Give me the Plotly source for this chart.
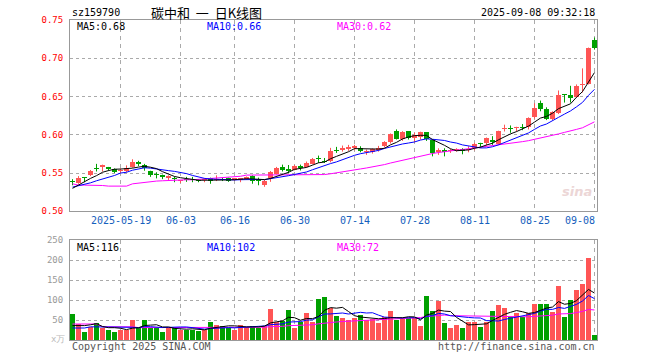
import plotly.graph_objects as go

# ---------------- data ----------------
opens = [0.540, 0.537, 0.544, 0.547, 0.556, 0.558, 0.558, 0.555, 0.553, 0.553,
         0.558, 0.564, 0.561, 0.553, 0.548, 0.547, 0.544, 0.544, 0.5395, 0.5425,
         0.5415, 0.5415, 0.541, 0.544, 0.541, 0.5425, 0.543, 0.5415, 0.5415, 0.542,
         0.5455, 0.5408, 0.535, 0.543, 0.549, 0.5583, 0.5553, 0.5543, 0.5596, 0.558,
         0.5622, 0.5697, 0.5658, 0.5653, 0.5807, 0.5797, 0.582, 0.5833, 0.5824, 0.5771,
         0.578, 0.5797, 0.585, 0.5903, 0.6043, 0.5947, 0.6043, 0.5955, 0.5968, 0.603,
         0.5929, 0.578, 0.5797, 0.579, 0.5797, 0.5816, 0.5797, 0.5833, 0.5895, 0.5895,
         0.5929, 0.5886, 0.607, 0.6087, 0.6087, 0.6105, 0.6096, 0.6237, 0.6412, 0.6333,
         0.6201, 0.6289, 0.6526, 0.6517, 0.6491, 0.6649, 0.6666, 0.7245]
highs = [0.542, 0.546, 0.544, 0.554, 0.562, 0.561, 0.558, 0.556, 0.556, 0.560,
         0.568, 0.566, 0.562, 0.553, 0.551, 0.548, 0.547, 0.5455, 0.540, 0.545,
         0.545, 0.542, 0.5435, 0.544, 0.547, 0.544, 0.544, 0.5435, 0.5435, 0.5455,
         0.547, 0.544, 0.541, 0.5526, 0.558, 0.561, 0.5605, 0.5605, 0.561, 0.565,
         0.5697, 0.5728, 0.5697, 0.5829, 0.5842, 0.5859, 0.5868, 0.5868, 0.585, 0.5807,
         0.582, 0.5855, 0.5916, 0.6017, 0.607, 0.6047, 0.6043, 0.6026, 0.604, 0.6034,
         0.5938, 0.5824, 0.5824, 0.5816, 0.5824, 0.5824, 0.585, 0.5895, 0.5895, 0.5964,
         0.5982, 0.6053, 0.6132, 0.6122, 0.6105, 0.614, 0.6228, 0.6412, 0.6447, 0.6359,
         0.6307, 0.6579, 0.6526, 0.664, 0.6658, 0.6868, 0.714, 0.7271]
lows = [0.534, 0.536, 0.538, 0.546, 0.552, 0.552, 0.553, 0.550, 0.550, 0.551,
        0.557, 0.559, 0.553, 0.545, 0.543, 0.542, 0.541, 0.538, 0.537, 0.5385,
        0.538, 0.538, 0.538, 0.536, 0.5395, 0.5395, 0.5385, 0.540, 0.538, 0.541,
        0.536, 0.534, 0.532, 0.5385, 0.548, 0.552, 0.550, 0.5534, 0.5534, 0.557,
        0.5613, 0.5632, 0.5632, 0.564, 0.5763, 0.578, 0.579, 0.5797, 0.5771, 0.5737,
        0.5754, 0.578, 0.5833, 0.5886, 0.5938, 0.5921, 0.5938, 0.5903, 0.5938, 0.592,
        0.5718, 0.5737, 0.5718, 0.5763, 0.578, 0.5745, 0.5771, 0.5797, 0.5833, 0.5859,
        0.5868, 0.5868, 0.6043, 0.6026, 0.6043, 0.606, 0.607, 0.6211, 0.6307, 0.6192,
        0.6192, 0.6271, 0.6421, 0.6421, 0.6482, 0.6553, 0.6658, 0.7113]
closes = [0.538, 0.544, 0.543, 0.553, 0.555, 0.560, 0.555, 0.552, 0.554, 0.556,
          0.565, 0.562, 0.557, 0.548, 0.547, 0.545, 0.5455, 0.542, 0.540, 0.541,
          0.541, 0.539, 0.542, 0.5395, 0.5425, 0.541, 0.540, 0.5435, 0.5435, 0.5447,
          0.5395, 0.5395, 0.540, 0.551, 0.557, 0.554, 0.5526, 0.5596, 0.557, 0.5636,
          0.5688, 0.568, 0.5645, 0.5784, 0.5793, 0.5833, 0.5837, 0.585, 0.5784, 0.5789,
          0.581, 0.5833, 0.5903, 0.6008, 0.5951, 0.6034, 0.596, 0.5991, 0.603, 0.5947,
          0.5757, 0.5797, 0.578, 0.5807, 0.5816, 0.579, 0.5816, 0.5886, 0.5886, 0.5955,
          0.5903, 0.6043, 0.6087, 0.607, 0.6105, 0.6087, 0.6218, 0.635, 0.6333, 0.6211,
          0.6297, 0.6517, 0.6517, 0.6482, 0.664, 0.6666, 0.714, 0.714]
volumes = [66, 41, 21, 33, 43, 31, 26, 21, 26, 26,
           49, 31, 49, 31, 31, 21, 31, 31, 26, 26,
           26, 23, 26, 46, 38, 36, 31, 26, 38, 33,
           36, 31, 36, 78, 46, 48, 76, 31, 46, 68,
           46, 103, 108, 80, 61, 56, 51, 56, 63, 51,
           53, 43, 58, 73, 51, 53, 56, 56, 36, 111,
           73, 98, 43, 31, 38, 31, 46, 46, 33, 46,
           73, 88, 81, 58, 68, 58, 68, 91, 91, 91,
           71, 136, 58, 101, 126, 141, 206, 13]

# moving-average values at the start of the window (read from the picture,
# they depend on sessions before the first bar)
ma5_head = [0.530, 0.5346, 0.539, 0.543]
ma10_head = [0.5316, 0.5333, 0.535, 0.5372, 0.5399, 0.5421, 0.5447, 0.5468, 0.550]
ma30_head = [0.5359, 0.5342, 0.5342, 0.5342, 0.5342, 0.5337, 0.5329, 0.5329, 0.5329, 0.5329,
             0.5359, 0.5368, 0.5386, 0.5395, 0.5395, 0.5399, 0.5403, 0.5412, 0.5412, 0.5412,
             0.5412, 0.5418, 0.5425, 0.543, 0.5435, 0.544, 0.5445, 0.545, 0.5458]
vma5_head = [36, 36, 36, 38]
vma10_head = [30, 30, 30, 33, 33, 33, 33, 33, 33]
vma30_head = [40, 40, 40, 40, 40, 33, 33, 33, 33, 33, 33,
              31, 31, 31, 31, 31, 31, 31, 31, 31, 31, 31, 31, 31, 31, 31, 31, 32, 32]

date_ticks = [8, 18, 27, 37, 47, 57, 67, 77, 87]
date_labels = ["2025-05-19", "06-03", "06-16", "06-30", "07-14", "07-28", "08-11", "08-25", "09-08"]
price_ticks = [0.50, 0.55, 0.60, 0.65, 0.70, 0.75]
vol_ticks = [0, 50, 100, 150, 200, 250]
vol_ma_labels = ["116", "102", "72"]

code = "sz159790"
title = "碳中和  一  日K线图"
stamp = "2025-09-08 09:32:18"

# ---------------- helpers ----------------
n = len(closes)
xs = list(range(n))


def moving(vals, k, head):
    out = list(head)
    for i in range(len(head), len(vals)):
        out.append(sum(vals[i - k + 1:i + 1]) / k)
    return out


ma5 = moving(closes, 5, ma5_head)
ma10 = moving(closes, 10, ma10_head)
ma30 = moving(closes, 30, ma30_head)
vma5 = moving(volumes, 5, vma5_head)
vma10 = moving(volumes, 10, vma10_head)
vma30 = moving(volumes, 30, vma30_head)

RED = "#ff5555"
GREEN = "#00a000"
up = [c >= o for o, c in zip(opens, closes)]
cols = [RED if u else GREEN for u in up]

MONO = "DejaVu Sans Mono"
L, R, T, B = 70, 63, 20, 20
W, H = 660, 360
PW, PH = W - L - R, H - T - B


def px(x):
    return (x - L) / PW


def py(y):
    return (H - B - y) / PH


fig = go.Figure()

# wicks
for colr, flag in ((RED, True), (GREEN, False)):
    wx, wy = [], []
    for i in xs:
        if up[i] == flag:
            wx += [i, i, None]
            wy += [lows[i], highs[i], None]
    fig.add_trace(go.Scatter(x=wx, y=wy, mode="lines", line=dict(color=colr, width=1),
                             hoverinfo="skip", xaxis="x", yaxis="y"))

# bodies
bases = [min(o, c) for o, c in zip(opens, closes)]
heights = [max(abs(c - o), 0.0012) for o, c in zip(opens, closes)]
fig.add_trace(go.Bar(x=xs, y=heights, base=bases, width=0.83,
                     marker=dict(color=cols, line=dict(width=0)), xaxis="x", yaxis="y"))

# price MAs
for vals, colr in ((ma30, "#ff00ff"), (ma10, "#0000ff"), (ma5, "#000000")):
    fig.add_trace(go.Scatter(x=xs, y=vals, mode="lines", line=dict(color=colr, width=1),
                             xaxis="x", yaxis="y"))

# volume
fig.add_trace(go.Bar(x=xs, y=volumes, width=0.83,
                     marker=dict(color=cols, line=dict(width=0)), xaxis="x2", yaxis="y2"))
for vals, colr in ((vma30, "#ff00ff"), (vma10, "#0000ff"), (vma5, "#000000")):
    fig.add_trace(go.Scatter(x=xs, y=vals, mode="lines", line=dict(color=colr, width=1),
                             xaxis="x2", yaxis="y2"))

xr = [-5 / 12, -5 / 12 + PW / 6]
GRID = "#aaaaaa"
FRAME = "#999999"
common_x = dict(range=xr, tickvals=date_ticks, showticklabels=False, ticks="",
                showgrid=True, gridcolor=GRID, griddash="4px,4px", gridwidth=1,
                showline=True, mirror=True, linecolor=FRAME, linewidth=1, zeroline=False,
                fixedrange=True)

price_dom = [py(211.3), 1.0]
vol_dom = [0.0, py(240)]

fig.update_layout(
    width=W, height=H,
    margin=dict(l=L, r=R, t=T, b=B, pad=0),
    paper_bgcolor="white", plot_bgcolor="white",
    showlegend=False, bargap=0,
    xaxis=dict(anchor="y", domain=[0, 1], **common_x),
    xaxis2=dict(anchor="y2", domain=[0, 1], **common_x),
    yaxis=dict(domain=price_dom, range=[0.50, 0.75], tickvals=price_ticks,
               ticktext=[f"{v:.2f}" for v in price_ticks], ticks="",
               tickfont=dict(family=MONO, size=9, color="#ff0000"),
               showgrid=True, gridcolor=GRID, griddash="dot", gridwidth=1,
               showline=True, mirror=True, linecolor=FRAME, linewidth=1,
               zeroline=False, ticklabelstandoff=4, fixedrange=True),
    yaxis2=dict(domain=vol_dom, range=[0, 250], tickvals=vol_ticks,
                ticktext=["" if v == 0 else str(v) for v in vol_ticks], ticks="",
                tickfont=dict(family=MONO, size=9, color="#999999"),
                showgrid=True, gridcolor=GRID, griddash="dot", gridwidth=1,
                showline=True, mirror=True, linecolor=FRAME, linewidth=1,
                zeroline=False, ticklabelstandoff=4, fixedrange=True),
)

anns = []


def ann(text, x, y, anchor="left", color="#000000", size=10, family=MONO):
    anns.append(dict(text=text, x=px(x), y=py(y), xref="paper", yref="paper",
                     xanchor=anchor, yanchor="middle", showarrow=False,
                     font=dict(family=family, size=size, color=color)))


ann(code, 70, 12.5)
ann(title, 206, 12, anchor="center", size=13, family="Noto Sans CJK SC")
ann(stamp, 597, 12.5, anchor="right")
ann(f"MA5:{ma5[-1]:.2f}", 75, 26)
ann(f"MA10:{ma10[-1]:.2f}", 205, 26, color="#0000ff")
ann(f"MA30:{ma30[-1]:.2f}", 335, 26, color="#ff00ff")
ann(f"MA5:{vol_ma_labels[0]}", 75, 247)
ann(f"MA10:{vol_ma_labels[1]}", 205, 247, color="#0000ff")
ann(f"MA30:{vol_ma_labels[2]}", 335, 247, color="#ff00ff")
ann("Copyright 2025 SINA.COM", 70, 346, color="#555555")
ann("http://finance.sina.com.cn", 597, 346, anchor="right", color="#555555")
ann("x万", 58, 339, anchor="center", color="#bbbbbb", size=9)
ann("<b><i>sina</i></b>", 577, 191, anchor="center", color="#ecd6d6", size=13,
    family="DejaVu Sans")

for t, lab in zip(date_ticks, date_labels):
    xpix = L + (t - xr[0]) * 6
    if xpix + len(lab) * 3 > 597:
        ann(lab, 597, 220, anchor="right", color="#1560bd")
    else:
        ann(lab, xpix, 220, anchor="center", color="#1560bd")

fig.update_layout(annotations=anns)
fig.write_html("out.html", config={"displayModeBar": False, "staticPlot": True},
               post_script="document.body.style.margin='0';")
